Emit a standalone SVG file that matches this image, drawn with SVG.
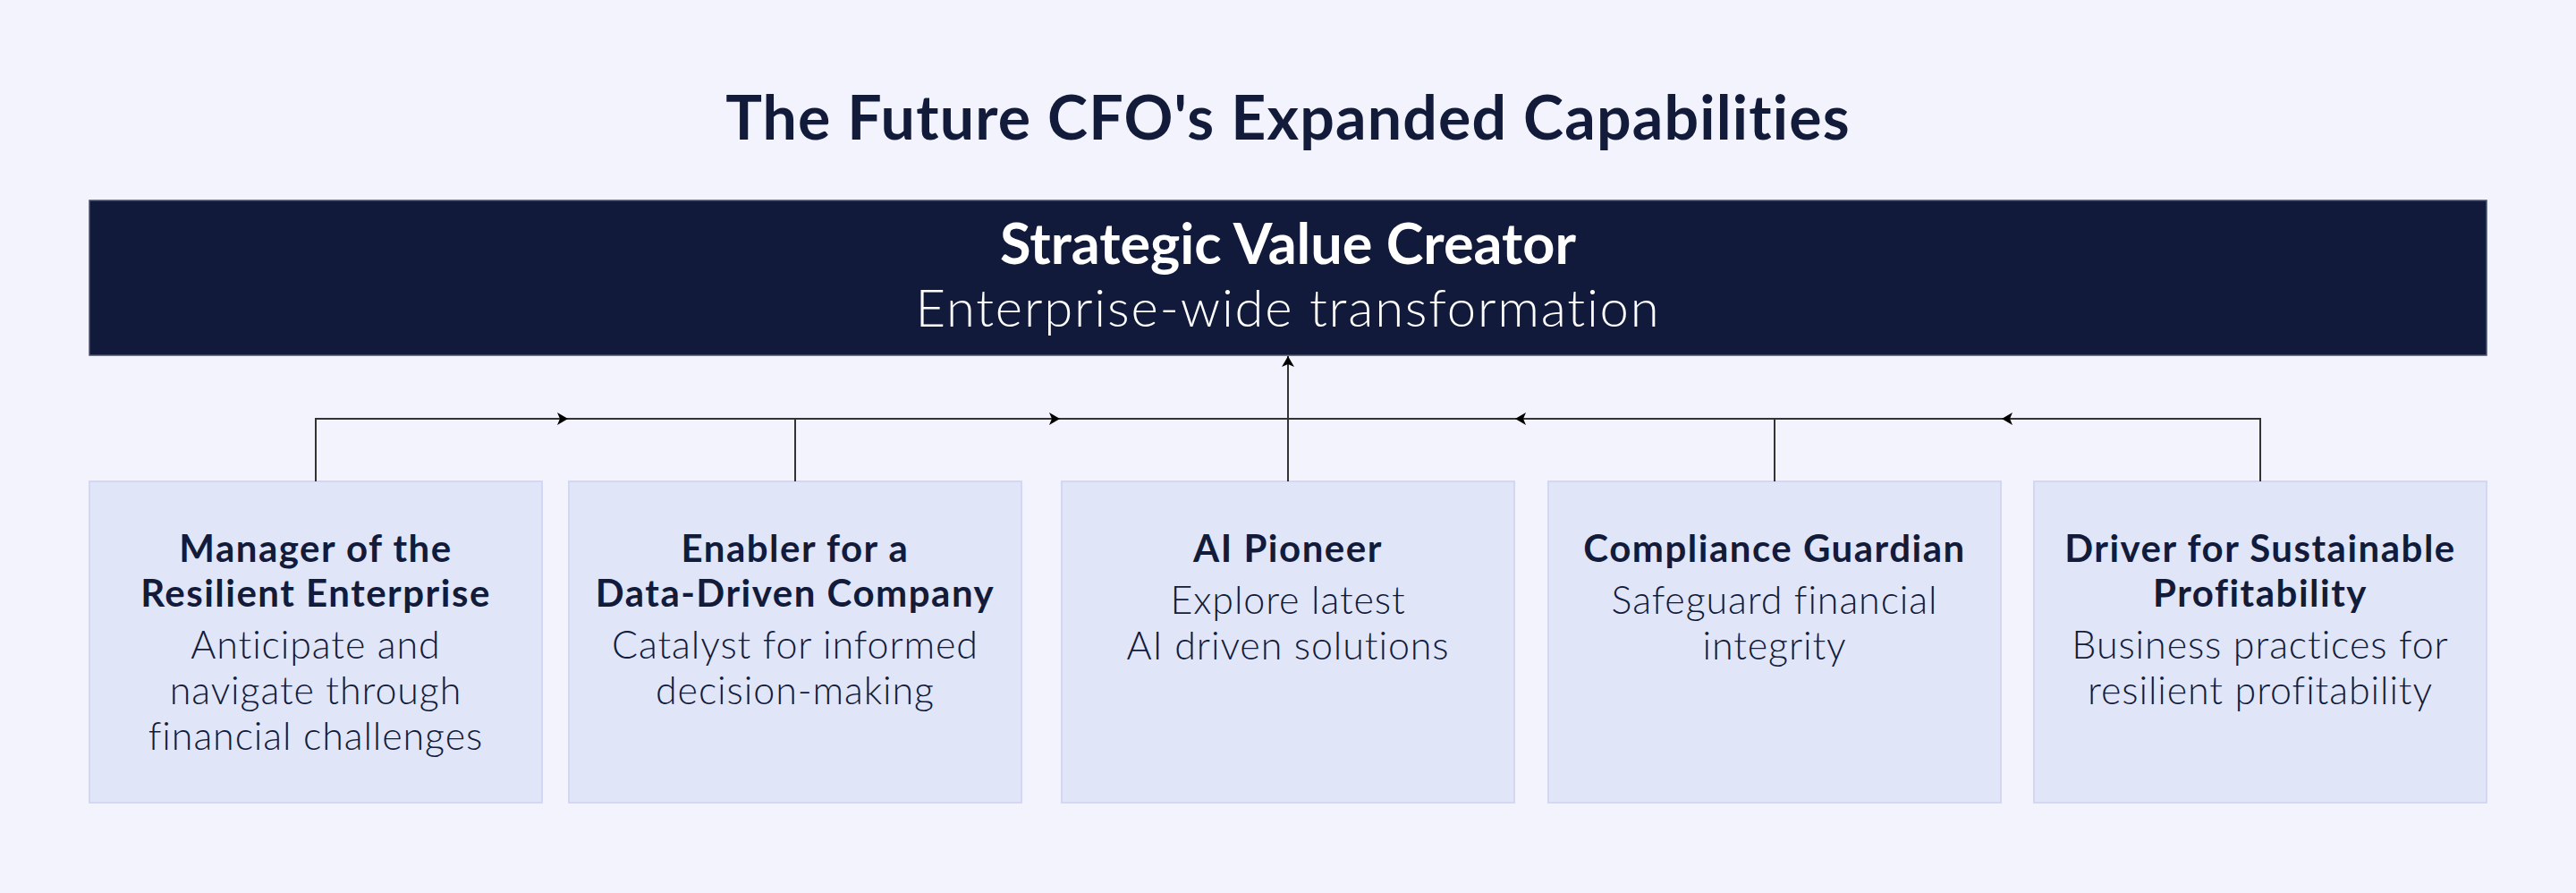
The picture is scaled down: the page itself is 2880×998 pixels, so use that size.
<svg xmlns="http://www.w3.org/2000/svg" width="2880" height="998" viewBox="0 0 2880 998">
<style>
.bg{fill:#f2f3fc}
.ttl{font-family:Lato,"Open Sans",sans-serif;font-weight:700;font-size:68px;letter-spacing:1.2px;fill:#131b3b;text-anchor:middle}
.th{font-family:Lato,"Open Sans",sans-serif;font-weight:700;font-size:63px;fill:#ffffff;text-anchor:middle}
.ts{font-family:Lato,"Open Sans",sans-serif;font-weight:300;font-size:58px;letter-spacing:1.8px;fill:#ffffff;text-anchor:middle}
.box{fill:#e0e6f8;stroke:#d3d6f5;stroke-width:2}
.top{fill:#121a3b;stroke:#4b5170;stroke-width:1.5}
.h{font-family:Lato,"Open Sans",sans-serif;font-weight:700;font-size:42px;letter-spacing:1.5px;fill:#131b3b;text-anchor:middle}
.d{font-family:Lato,"Open Sans",sans-serif;font-weight:300;font-size:43px;letter-spacing:0.9px;fill:#131b3b;text-anchor:middle}
.ln{fill:none;stroke:#333333;stroke-width:2}
</style>
<defs>
<marker id="arr" viewBox="0 0 12 14" refX="12" refY="7" markerWidth="12" markerHeight="14" markerUnits="userSpaceOnUse" orient="auto">
<path d="M0,0 L12,7 L0,14 L3,7 z" fill="#000000"/>
</marker>
</defs>
<rect class="bg" x="0" y="0" width="2880" height="998"/>
<text class="ttl" x="1440" y="156">The Future CFO's Expanded Capabilities</text>
<g id="strategic-value-creator">
<rect class="top" x="100" y="224" width="2680" height="173"/>
<text class="th" x="1440" y="295">Strategic Value Creator</text>
<text class="ts" x="1440" y="365">Enterprise-wide transformation</text>
</g>
<g id="resilient-enterprise">
<rect class="box" x="100" y="538" width="506" height="359"/>
<text class="h" x="353" y="628">Manager of the</text>
<text class="h" x="353" y="678">Resilient Enterprise</text>
<text class="d" x="353" y="736">Anticipate and</text>
<text class="d" x="353" y="787">navigate through</text>
<text class="d" x="353" y="838">financial challenges</text>
</g>
<g id="data-driven">
<rect class="box" x="636" y="538" width="506" height="359"/>
<text class="h" x="889" y="628">Enabler for a</text>
<text class="h" x="889" y="678">Data-Driven Company</text>
<text class="d" x="889" y="736">Catalyst for informed</text>
<text class="d" x="889" y="787">decision-making</text>
</g>
<g id="ai-pioneer">
<rect class="box" x="1187" y="538" width="506" height="359"/>
<text class="h" x="1440" y="628">AI Pioneer</text>
<text class="d" x="1440" y="686">Explore latest</text>
<text class="d" x="1440" y="737">AI driven solutions</text>
</g>
<g id="compliance-guardian">
<rect class="box" x="1731" y="538" width="506" height="359"/>
<text class="h" x="1984" y="628">Compliance Guardian</text>
<text class="d" x="1984" y="686">Safeguard financial</text>
<text class="d" x="1984" y="737">integrity</text>
</g>
<g id="sustainable-profitability">
<rect class="box" x="2274" y="538" width="506" height="359"/>
<text class="h" x="2527" y="628">Driver for Sustainable</text>
<text class="h" x="2527" y="678">Profitability</text>
<text class="d" x="2527" y="736">Business practices for</text>
<text class="d" x="2527" y="787">resilient profitability</text>
</g>
<g id="connectors">
<path class="ln" d="M353,538 V468 H635" marker-end="url(#arr)"/>
<path class="ln" d="M635,468 H1185" marker-end="url(#arr)"/>
<path class="ln" d="M889,538 V468"/>
<path class="ln" d="M1185,468 H1440"/>
<path class="ln" d="M1440,538 V398" marker-end="url(#arr)"/>
<path class="ln" d="M2527,538 V468 H2238" marker-end="url(#arr)"/>
<path class="ln" d="M2238,468 H1694" marker-end="url(#arr)"/>
<path class="ln" d="M1694,468 H1440"/>
<path class="ln" d="M1984,538 V468"/>
</g>
</svg>
